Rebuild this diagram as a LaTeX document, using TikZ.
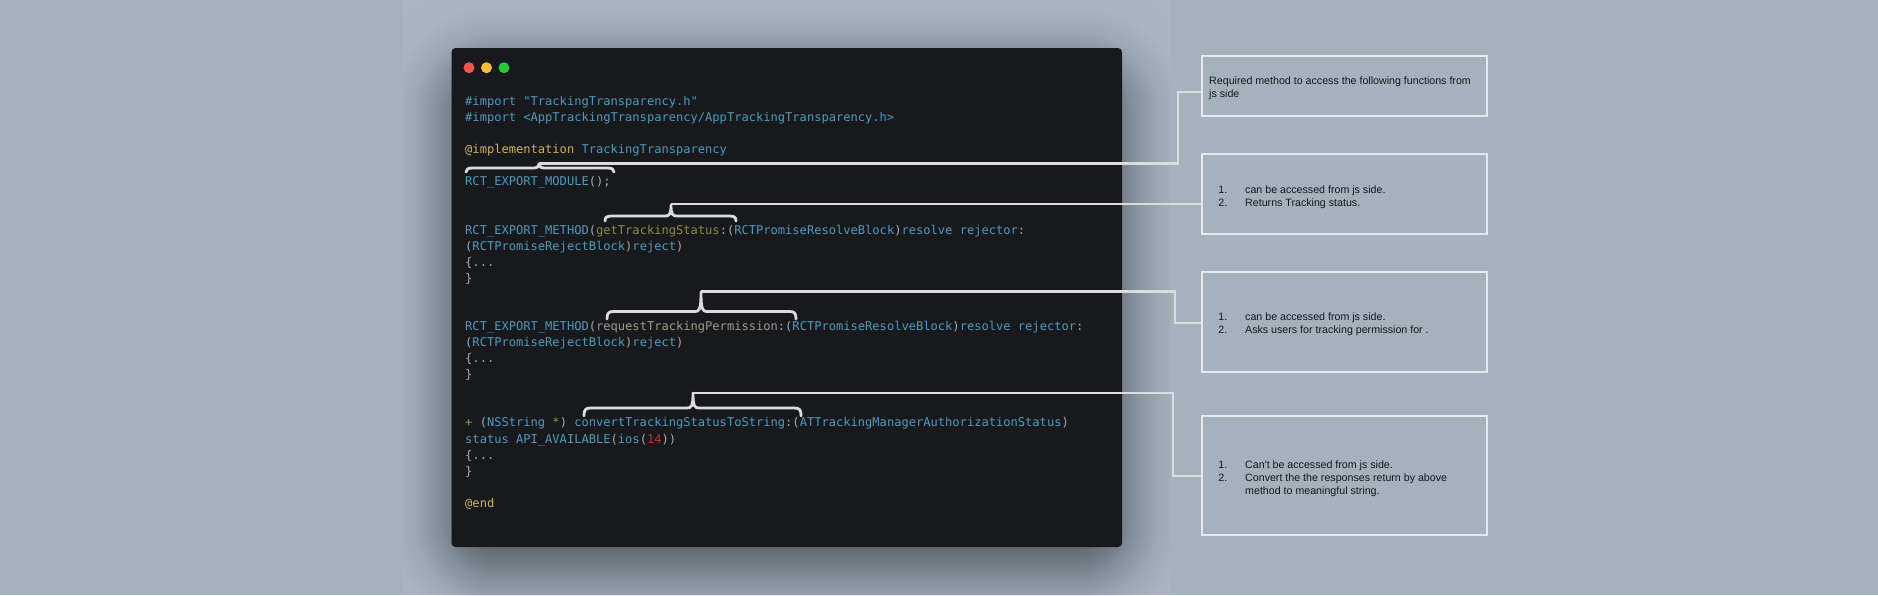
\documentclass[tikz,border=0pt]{standalone}
\usepackage{fontspec}
\newfontfamily\codefont{DejaVu Sans Mono}
\newfontfamily\boxfont{Liberation Sans}
\definecolor{bgbase}{HTML}{A5B1BC}
\definecolor{bglight}{HTML}{AAB6C1}
\definecolor{cardcol}{HTML}{17191C}
\definecolor{cblue}{HTML}{4A9ABF}
\definecolor{cgrey}{HTML}{A4ABB0}
\definecolor{cgold}{HTML}{CDB150}
\definecolor{colive}{HTML}{8E8B40}
\definecolor{ctaupe}{HTML}{9C9A88}
\definecolor{cred}{HTML}{C2343C}
\definecolor{cgreen}{HTML}{7F9F41}
\definecolor{linecol}{HTML}{DCDCDC}
\definecolor{boxline}{HTML}{E6E9EB}
\definecolor{boxtext}{HTML}{14181D}
\definecolor{dotred}{RGB}{249,82,80}
\definecolor{dotyellow}{RGB}{254,188,46}
\definecolor{dotgreen}{RGB}{39,201,63}
\newcommand{\bl}[1]{\textcolor{cblue}{#1}}
\newcommand{\gd}[1]{\textcolor{cgold}{#1}}
\tikzset{
  code/.style={anchor=base west,inner sep=0pt,font=\codefont\fontsize{12.08}{16}\selectfont,text=cgrey},
  note/.style={anchor=base west,inner sep=0pt,font=\boxfont\fontsize{10.65}{13}\selectfont,text=boxtext},
  notenum/.style={anchor=base east,inner sep=0pt,font=\boxfont\fontsize{10.65}{13}\selectfont,text=boxtext},
  notebox/.style={draw=boxline,line width=2pt,inner sep=0pt,outer sep=0pt,anchor=north west},
  conn/.style={draw=linecol,line width=2.8pt,line join=miter},
  bracket/.style={draw=linecol,line width=2.8pt,line cap=round,line join=round},
  dot/.style={circle,inner sep=0pt,outer sep=0pt,minimum size=11pt},
}
\newcommand{\curly}[6]{% x0, xtip, x1, yline, yend, ytip
  \draw[bracket] (#1,#5) .. controls (#1,#4+1) and ({#1+2},#4) .. ({#1+7},#4)
    -- ({#2-6},#4) .. controls ({#2-2},#4) and (#2,{#4-1}) .. (#2,#6)
    (#2,#6) .. controls (#2,{#4-1}) and ({#2+2},#4) .. ({#2+6},#4)
    -- ({#3-7},#4) .. controls ({#3-2},#4) and (#3,#4+1) .. (#3,#5);
}
\begin{document}
\begin{tikzpicture}[x=1pt,y=-1pt]
\useasboundingbox (0,0) rectangle (1878,595);
\fill[bgbase] (0,0) rectangle (1878,595);
\fill[bglight] (403,0) rectangle (1171,595);
% card shadow
\begin{scope}
\clip (403,0) rectangle (1171,595);
\pgfmathsetmacro{\prevA}{0}
\foreach \d in {90,88,...,-70}{
  \pgfmathsetmacro{\curA}{0.48/(1+exp(\d/20))}
  \pgfmathsetmacro{\layer}{1-(1-\curA)/(1-\prevA)}
  \pgfmathsetmacro{\rad}{max(4,\d+45)}
  \fill[black,fill opacity=\layer,rounded corners=\rad pt]
     ({451-\d},{48+20-\d}) rectangle ({1122+\d},{547+20+\d});
  \global\let\prevA\curA
}
\end{scope}
% card
\node[fill=cardcol,rounded corners=4pt,inner sep=0pt,outer sep=0pt,anchor=north west,minimum width=670.5pt,minimum height=499pt] (card) at (451.5,48) {};
\node[dot,fill=dotred] (dotr) at (469,67.7) {};
\node[dot,fill=dotyellow] (doty) at (486.5,67.7) {};
\node[dot,fill=dotgreen] (dotg) at (504,67.7) {};
% code
\node[code] (c0) at (465,105.3) {\bl{\#import "TrackingTransparency.h"}};
\node[code] (c1) at (465,121.4) {\bl{\#import <AppTrackingTransparency/AppTrackingTransparency.h>}};
\node[code] (c3) at (465,153.5) {\gd{@implementation} \bl{TrackingTransparency}};
\node[code] (c5) at (465,185.7) {\bl{RCT\_EXPORT\_MODULE}();};
\node[code] (c8) at (465,234) {\bl{RCT\_EXPORT\_METHOD}(\textcolor{colive}{getTrackingStatus}:(\bl{RCTPromiseResolveBlock})\bl{resolve rejector}:};
\node[code] (c9) at (465,250) {(\bl{RCTPromiseRejectBlock})\bl{reject})};
\node[code] (c10) at (465,266.1) {\{...};
\node[code] (c11) at (465,282.2) {\}};
\node[code] (c14) at (465,330.4) {\bl{RCT\_EXPORT\_METHOD}(\textcolor{ctaupe}{requestTrackingPermission}:(\bl{RCTPromiseResolveBlock})\bl{resolve rejector}:};
\node[code] (c15) at (465,346.5) {(\bl{RCTPromiseRejectBlock})\bl{reject})};
\node[code] (c16) at (465,362.6) {\{...};
\node[code] (c17) at (465,378.7) {\}};
\node[code] (c20) at (465,426.9) {\textcolor{cgreen}{+} (\bl{NSString} \textcolor{cgreen}{*}) \bl{convertTrackingStatusToString}:(\bl{ATTrackingManagerAuthorizationStatus})};
\node[code] (c21) at (465,443) {\bl{status API\_AVAILABLE}(\bl{ios}(\textcolor{cred}{14}))};
\node[code] (c22) at (465,459) {\{...};
\node[code] (c23) at (465,475.1) {\}};
\node[code] (c25) at (465,507.3) {\gd{@end}};
% note boxes
\node[notebox,minimum width=285.5pt,minimum height=60pt] (box1) at (1201.5,56) {};
\node[notebox,minimum width=285.5pt,minimum height=80pt] (box2) at (1201.5,154) {};
\node[notebox,minimum width=285.5pt,minimum height=100pt] (box3) at (1201.5,272) {};
\node[notebox,minimum width=285.5pt,minimum height=119pt] (box4) at (1201.5,416) {};
% note text
\node[note] (n1a) at (1209,84) {Required method to access the following functions from};
\node[note] (n1b) at (1209,97) {js side};
\node[notenum] (n2a) at (1227.5,193) {1.};
\node[note] (t2a) at (1245,193) {can be accessed from js side.};
\node[notenum] (n2b) at (1227.5,206) {2.};
\node[note] (t2b) at (1245,206) {Returns Tracking status.};
\node[notenum] (n3a) at (1227.5,320) {1.};
\node[note] (t3a) at (1245,320) {can be accessed from js side.};
\node[notenum] (n3b) at (1227.5,333) {2.};
\node[note] (t3b) at (1245,333) {Asks users for tracking permission for .};
\node[notenum] (n4a) at (1227.5,468) {1.};
\node[note] (t4a) at (1245,468) {Can't be accessed from js side.};
\node[notenum] (n4b) at (1227.5,481) {2.};
\node[note] (t4b) at (1245,481) {Convert the the responses return by above};
\node[note] (t4c) at (1245,494) {method to meaningful string.};
% braces
\curly{466}{539}{614}{168}{172}{164}
\curly{605}{671}{736}{216}{221}{205}
\curly{607}{701}{796}{311.5}{319}{292}
\curly{584}{693}{801}{408}{416}{393}
% connectors
\coordinate (tip1) at (539,163.5);
\coordinate (tip2) at (671,204);
\coordinate (tip3) at (701,291.5);
\coordinate (tip4) at (693,393);
\coordinate (end1) at (1201,92);
\coordinate (end2) at (box2.west |- tip2);
\coordinate (end3) at (1201,323);
\coordinate (end4) at (1201,476);
\coordinate (bend1) at (1178,92);
\coordinate (bend3) at (1175,323);
\coordinate (bend4) at (1173,476);
\draw[conn] (tip1) -| (bend1) -- (end1);
\draw[conn] (tip2) -- (end2);
\draw[conn] (tip3) -| (bend3) -- (end3);
\draw[conn] (tip4) -| (bend4) -- (end4);
\end{tikzpicture}
\end{document}
